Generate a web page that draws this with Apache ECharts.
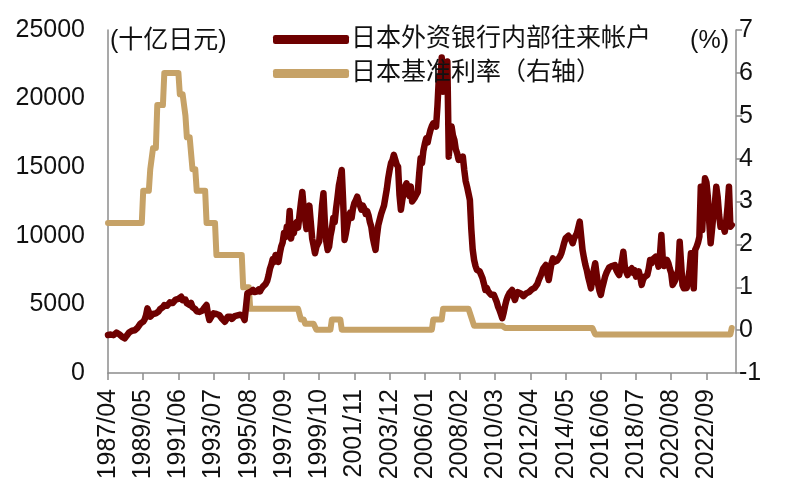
<!DOCTYPE html>
<html>
<head>
<meta charset="utf-8">
<script src="https://cdn.jsdelivr.net/npm/echarts@6/dist/echarts.min.js"></script>
<style>html,body{margin:0;padding:0;background:#fff;}#c{width:800px;height:500px;}</style>
</head>
<body>
<div id="c"></div>
<script>
// Category range (monthly), axis runs a few months past the last observation
const startYear = 1987, startMonth = 4, endYear = 2024, endMonth = 6;
const months = [];
for (let y = startYear, m = startMonth; y < endYear || (y === endYear && m <= endMonth); ) {
  months.push(y + '/' + (m < 10 ? '0' + m : m));
  m++; if (m > 12) { m = 1; y++; }
}

const seriesNames = ['日本外资银行内部往来帐户', '日本基准利率（右轴）'];

// 日本外资银行内部往来帐户 (十亿日元), 1987/04 - 2024/03
const accountValues = [
  2770, 2720, 2800, 2850, 2760, 2900, 2940, 2880, 2820,                 // 1987 Apr-Dec
  2700, 2640, 2580, 2530, 2680, 2820, 2950, 3020, 3080, 2980, 3120, 3250, // 1988
  3300, 3380, 3600, 3520, 3740, 3900, 4200, 4710, 4450, 4100, 4200, 4300, // 1989
  4200, 4350, 4350, 4500, 4650, 4600, 4800, 4950, 5080, 4900, 5000, 5150, // 1990
  5050, 5100, 5200, 5350, 5250, 5400, 5500, 5560, 5300, 5200, 5350, 5080, // 1991
  5000, 4950, 5100, 4800, 4720, 4650, 4500, 4600, 4450, 4350, 4550, 4700, // 1992
  4800, 4960, 4300, 3860, 4000, 4200, 4350, 4470, 4300, 4350, 4230, 4100, // 1993
  3950, 3850, 3740, 3900, 4100, 4230, 4100, 3950, 4050, 4150, 4100, 4200, // 1994
  4300, 4250, 4350, 4100, 3860, 4800, 5810, 5700, 5900, 6000, 6050, 5900, // 1995
  5850, 5950, 6100, 5950, 6150, 6300, 6250, 6500, 6700, 7100, 7600, 7900, // 1996
  8300, 8100, 8600, 8400, 8100, 8700, 9210, 9500, 10200, 9900, 10660, 10300, // 1997
  11800, 9800, 10400, 10200, 10800, 11000, 10600, 11500, 12400, 13200, 12000, 11200, // 1998
  10500, 11500, 12200, 11000, 9800, 9300, 8730, 9200, 9400, 9600, 10800, 12200, // 1999
  13100, 11000, 9600, 8970, 9200, 10000, 10500, 11300, 11000, 12000, 12800, 13700, // 2000
  14200, 14800, 12500, 9700, 10200, 10800, 11400, 11700, 11300, 12000, 12400, 12600, // 2001
  12850, 12500, 12200, 11900, 12200, 12000, 11600, 11800, 11500, 11000, 10660, 9900, // 2002
  9400, 8970, 10000, 10800, 11200, 11600, 11900, 12200, 12800, 13400, 14200, 14800, // 2003
  15300, 15500, 15900, 15800, 15200, 15040, 13000, 11900, 12600, 13200, 13600, 13830, // 2004
  13200, 12900, 13600, 12500, 12600, 12800, 12700, 13200, 14500, 15650, 15300, 16200, // 2005
  16700, 17100, 16800, 17300, 17700, 18000, 18200, 18100, 17960, 19500, 21600, 21300, // 2006
  23000, 20500, 21200, 21800, 22700, 15770, 17200, 17960, 17300, 16990, 16300, 16000, // 2007
  15530, 15400, 15600, 15770, 14800, 14000, 13580, 13100, 12610, 10500, 9000, 8240, // 2008
  7800, 7510, 7600, 7400, 7270, 6900, 6500, 6050, 6200, 5950, 5810, 5700, // 2009
  5650, 5700, 5560, 5200, 4830, 4600, 4300, 3990, 4400, 4900, 5320, 5600, // 2010
  5800, 5900, 6050, 5600, 5320, 5700, 5900, 6000, 5800, 5700, 5600, 5560, // 2011
  5800, 5700, 5900, 5900, 6100, 6000, 6200, 6170, 6500, 6800, 7020, 7300, // 2012
  7600, 7700, 7870, 7200, 6780, 7400, 8000, 8360, 8100, 8000, 8200, 8240, // 2013
  8500, 8730, 9100, 9500, 9820, 9900, 10000, 10060, 9700, 9460, 9800, 9900, // 2014
  10180, 10600, 11030, 10000, 8970, 8400, 7900, 7510, 7000, 6600, 6170, 6800, // 2015
  7500, 8000, 7200, 6500, 6000, 5690, 6200, 6600, 7020, 7300, 7500, 7700, // 2016
  7750, 7800, 7700, 7870, 7500, 7300, 7140, 7600, 8200, 8840, 7800, 7400, // 2017
  7140, 7400, 7500, 7630, 7300, 7500, 7020, 7200, 7400, 7000, 6420, 6800, // 2018
  7000, 7100, 7140, 7600, 8240, 8000, 8300, 8400, 8480, 8200, 7750, 8600, // 2019
  10060, 8300, 7800, 8000, 8240, 8000, 7600, 7270, 6420, 6600, 6800, 6780, // 2020
  7500, 9570, 8000, 6400, 6170, 6300, 6200, 6200, 7500, 8730, 7000, 6170, // 2021
  8970, 9200, 9500, 9940, 13580, 10420, 12500, 14190, 13900, 12850, 11000, 9460, // 2022
  10500, 11600, 12370, 13580, 12800, 11500, 10660, 10900, 10700, 10300, 11000, 12120, // 2023
  13580, 10660, 10790                                                    // 2024 Jan-Mar
];

// 日本基准利率 (%), 1987/04 - 2024/03
const rateValues = [
  2.5, 2.5, 2.5, 2.5, 2.5, 2.5, 2.5, 2.5, 2.5,                           // 1987 Apr-Dec
  2.5, 2.5, 2.5, 2.5, 2.5, 2.5, 2.5, 2.5, 2.5, 2.5, 2.5, 2.5,           // 1988
  2.5, 2.5, 2.5, 2.5, 3.25, 3.25, 3.25, 3.25, 3.25, 3.75, 3.75, 4.25,   // 1989
  4.25, 4.25, 5.25, 5.25, 5.25, 5.25, 5.25, 6, 6, 6, 6, 6,              // 1990
  6, 6, 6, 6, 6, 6, 5.5, 5.5, 5.5, 5.5, 5, 4.5,                         // 1991
  4.5, 4.5, 4.5, 3.75, 3.75, 3.75, 3.25, 3.25, 3.25, 3.25, 3.25, 3.25,  // 1992
  3.25, 2.5, 2.5, 2.5, 2.5, 2.5, 2.5, 2.5, 1.75, 1.75, 1.75, 1.75,      // 1993
  1.75, 1.75, 1.75, 1.75, 1.75, 1.75, 1.75, 1.75, 1.75, 1.75, 1.75, 1.75, // 1994
  1.75, 1.75, 1.75, 1, 1, 1, 1, 1, 0.5, 0.5, 0.5, 0.5,                  // 1995
  0.5, 0.5, 0.5, 0.5, 0.5, 0.5, 0.5, 0.5, 0.5, 0.5, 0.5, 0.5,           // 1996
  0.5, 0.5, 0.5, 0.5, 0.5, 0.5, 0.5, 0.5, 0.5, 0.5, 0.5, 0.5,           // 1997
  0.5, 0.5, 0.5, 0.5, 0.5, 0.5, 0.5, 0.5, 0.25, 0.25, 0.25, 0.15,       // 1998
  0.15, 0.15, 0.15, 0.15, 0.15, 0.15, 0.15, 0.01, 0.01, 0.01, 0.01, 0.01, // 1999
  0.01, 0.01, 0.01, 0.01, 0.01, 0.01, 0.25, 0.25, 0.25, 0.25, 0.25, 0.25, // 2000
  0.25, 0.01, 0.01, 0.01, 0.01, 0.01, 0.01, 0.01, 0.01, 0.01, 0.01, 0.01, // 2001
  0.01, 0.01, 0.01, 0.01, 0.01, 0.01, 0.01, 0.01, 0.01, 0.01, 0.01, 0.01, // 2002
  0.01, 0.01, 0.01, 0.01, 0.01, 0.01, 0.01, 0.01, 0.01, 0.01, 0.01, 0.01, // 2003
  0.01, 0.01, 0.01, 0.01, 0.01, 0.01, 0.01, 0.01, 0.01, 0.01, 0.01, 0.01, // 2004
  0.01, 0.01, 0.01, 0.01, 0.01, 0.01, 0.01, 0.01, 0.01, 0.01, 0.01, 0.01, // 2005
  0.01, 0.01, 0.01, 0.01, 0.01, 0.01, 0.25, 0.25, 0.25, 0.25, 0.25, 0.25, // 2006
  0.25, 0.5, 0.5, 0.5, 0.5, 0.5, 0.5, 0.5, 0.5, 0.5, 0.5, 0.5,          // 2007
  0.5, 0.5, 0.5, 0.5, 0.5, 0.5, 0.5, 0.5, 0.5, 0.3, 0.3, 0.1,           // 2008
  0.1, 0.1, 0.1, 0.1, 0.1, 0.1, 0.1, 0.1, 0.1, 0.1, 0.1, 0.1,           // 2009
  0.1, 0.1, 0.1, 0.1, 0.1, 0.1, 0.1, 0.1, 0.1, 0.05, 0.05, 0.05,        // 2010
  0.05, 0.05, 0.05, 0.05, 0.05, 0.05, 0.05, 0.05, 0.05, 0.05, 0.05, 0.05, // 2011
  0.05, 0.05, 0.05, 0.05, 0.05, 0.05, 0.05, 0.05, 0.05, 0.05, 0.05, 0.05, // 2012
  0.05, 0.05, 0.05, 0.05, 0.05, 0.05, 0.05, 0.05, 0.05, 0.05, 0.05, 0.05, // 2013
  0.05, 0.05, 0.05, 0.05, 0.05, 0.05, 0.05, 0.05, 0.05, 0.05, 0.05, 0.05, // 2014
  0.05, 0.05, 0.05, 0.05, 0.05, 0.05, 0.05, 0.05, 0.05, 0.05, 0.05, 0.05, // 2015
  0.05, -0.1, -0.1, -0.1, -0.1, -0.1, -0.1, -0.1, -0.1, -0.1, -0.1, -0.1, // 2016
  -0.1, -0.1, -0.1, -0.1, -0.1, -0.1, -0.1, -0.1, -0.1, -0.1, -0.1, -0.1, // 2017
  -0.1, -0.1, -0.1, -0.1, -0.1, -0.1, -0.1, -0.1, -0.1, -0.1, -0.1, -0.1, // 2018
  -0.1, -0.1, -0.1, -0.1, -0.1, -0.1, -0.1, -0.1, -0.1, -0.1, -0.1, -0.1, // 2019
  -0.1, -0.1, -0.1, -0.1, -0.1, -0.1, -0.1, -0.1, -0.1, -0.1, -0.1, -0.1, // 2020
  -0.1, -0.1, -0.1, -0.1, -0.1, -0.1, -0.1, -0.1, -0.1, -0.1, -0.1, -0.1, // 2021
  -0.1, -0.1, -0.1, -0.1, -0.1, -0.1, -0.1, -0.1, -0.1, -0.1, -0.1, -0.1, // 2022
  -0.1, -0.1, -0.1, -0.1, -0.1, -0.1, -0.1, -0.1, -0.1, -0.1, -0.1, -0.1, // 2023
  -0.1, -0.1, 0.05                                                       // 2024 Jan-Mar
];

const leftTicks = { min: 0, max: 25000, interval: 5000 };
const rightTicks = { min: -1, max: 7, interval: 1 };
const leftUnit = '(十亿日元)';
const rightUnit = '(%)';

const FONT = '"Liberation Sans", Arial, "Noto Sans CJK SC", sans-serif';
const AXIS_COLOR = '#8c8c8c';
const RED = '#6e0000';
const GOLD = '#c6a267';

const chart = echarts.init(document.getElementById('c'), null, { renderer: 'canvas' });
chart.setOption({
  animation: false,
  backgroundColor: '#fff',
  textStyle: { fontFamily: FONT },
  grid: { left: 108, right: 64, top: 30, bottom: 127, containLabel: false },
  legend: {
    orient: 'vertical',
    left: 268,
    top: 22,
    data: seriesNames,
    itemWidth: 76,
    itemHeight: 9,
    itemGap: 9,
    icon: 'roundRect',
    textStyle: { fontSize: 25, color: '#111', fontFamily: FONT, padding: [0, 0, 0, -3] }
  },
  graphic: [
    { type: 'text', left: 110, top: 29, style: { text: leftUnit, font: '25px ' + FONT, fill: '#111' } },
    { type: 'text', right: 71, top: 29, style: { text: rightUnit, font: '25px ' + FONT, fill: '#111' } }
  ],
  xAxis: {
    type: 'category',
    data: months,
    boundaryGap: false,
    axisLine: { lineStyle: { color: AXIS_COLOR, width: 1.5 } },
    axisTick: { interval: 24, length: 7, lineStyle: { color: AXIS_COLOR, width: 1.5 } },
    axisLabel: { interval: 24, rotate: 90, fontSize: 25, color: '#111', margin: 16, fontFamily: FONT },
    splitLine: { show: false }
  },
  yAxis: [
    {
      type: 'value',
      min: leftTicks.min, max: leftTicks.max, interval: leftTicks.interval,
      axisLine: { show: true, lineStyle: { color: AXIS_COLOR, width: 1.5 } },
      axisTick: { show: false },
      axisLabel: { fontSize: 25, color: '#111', margin: 23, fontFamily: FONT, formatter: v => String(v) },
      splitLine: { show: false }
    },
    {
      type: 'value',
      min: rightTicks.min, max: rightTicks.max, interval: rightTicks.interval,
      position: 'right',
      axisLine: { show: true, lineStyle: { color: AXIS_COLOR, width: 1.5 } },
      axisTick: { show: true, length: 6, lineStyle: { color: AXIS_COLOR, width: 1.5 } },
      axisLabel: { fontSize: 25, color: '#111', margin: 3, fontFamily: FONT },
      splitLine: { show: false }
    }
  ],
  series: [
    {
      name: seriesNames[1],
      type: 'line',
      yAxisIndex: 1,
      data: rateValues,
      showSymbol: false,
      lineStyle: { color: GOLD, width: 6, join: 'round', cap: 'round' },
      itemStyle: { color: GOLD },
      z: 2
    },
    {
      name: seriesNames[0],
      type: 'line',
      yAxisIndex: 0,
      data: accountValues,
      showSymbol: false,
      lineStyle: { color: RED, width: 6.5, join: 'round', cap: 'round' },
      itemStyle: { color: RED },
      z: 3
    }
  ]
});
</script>
</body>
</html>
